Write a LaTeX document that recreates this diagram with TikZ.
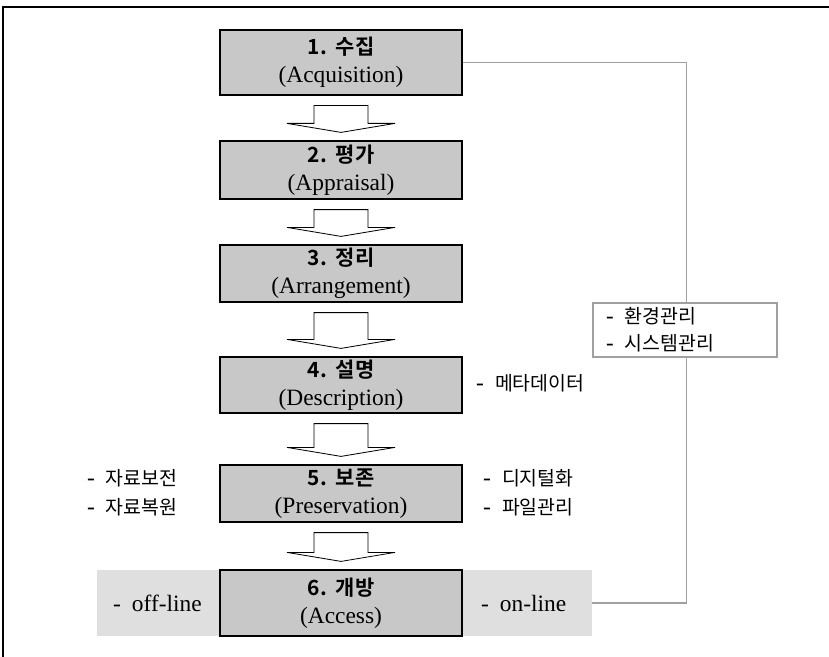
\documentclass[tikz,border=0pt]{standalone}
\usepackage{fontspec}
\setmainfont{Liberation Serif}
\newfontfamily\kr{Noto Sans CJK KR}
\newfontfamily\krb{Noto Sans CJK KR Bold}
\usetikzlibrary{calc}
\definecolor{boxgray}{RGB}{200,200,200}
\definecolor{bandgray}{RGB}{223,223,223}
\definecolor{linegray}{RGB}{160,160,160}
\newcommand\dsh{-\hspace{11bp}}
\newcommand\ko[1]{{\kr\fontsize{19.5}{29}\selectfont #1}}
\newcommand\ttl[1]{{\krb\fontsize{21}{27}\selectfont #1}}
\begin{document}
\begin{tikzpicture}[x=1bp,y=-1bp,
  stage/.style={draw=black, line width=1.2bp, fill=boxgray, minimum width=242bp,
    inner sep=0pt, align=center, font=\fontsize{23.5}{28}\selectfont},
  lab/.style={inner sep=0pt, align=left, font=\fontsize{23.5}{29}\selectfont},
  band/.style={fill=bandgray, inner sep=0pt, minimum width=495bp, minimum height=66bp},
  envbox/.style={draw=linegray, line width=1.3bp, fill=white, align=left,
    text width=158bp, inner xsep=13bp, inner ysep=0pt, minimum height=54bp,
    font=\fontsize{23}{27}\selectfont},
  conn/.style={draw=linegray, line width=1.2bp},
  blockarrow/.style={draw=black, line width=0.8bp, fill=white, line join=miter},
  frame/.style={draw=black, line width=1.3bp}]
\useasboundingbox (0,0) rectangle (829,657);
\draw[frame] (3,657) -- (3,7) -- (829,7);

\node[band] (band) at (344.5,603) {};

\node[stage, minimum height=65bp] (b1) at (341,62.5) {\ttl{1.\hspace{9bp}수집}\\(Acquisition)};
\node[stage, minimum height=58bp] (b2) at (341,170) {\ttl{2.\hspace{9bp}평가}\\(Appraisal)};
\node[stage, minimum height=57bp] (b3) at (341,273.5) {\ttl{3.\hspace{9bp}정리}\\(Arrangement)};
\node[stage, minimum height=56bp] (b4) at (341,385) {\ttl{4.\hspace{9bp}설명}\\(Description)};
\node[stage, minimum height=57bp] (b5) at (341,493.5) {\ttl{5.\hspace{9bp}보존}\\(Preservation)};
\node[stage, minimum height=66bp] (b6) at (341,603) {\ttl{6.\hspace{9bp}개방}\\(Access)};

\foreach \a/\b in {b1/b2,b2/b3,b3/b4,b4/b5,b5/b6}{
  \draw[blockarrow] let \p1=(\a.south), \p2=(\b.north) in
    (\x1-27bp,\y1-10bp) -- (\x1-27bp,\y2+17bp) -- (\x1-54bp,\y2+17bp) --
    (\x1,\y2+8bp) -- (\x1+54bp,\y2+17bp) -- (\x1+27bp,\y2+17bp) --
    (\x1+27bp,\y1-10bp) -- cycle;
}

\draw[conn] (b1.east) -| ($(band.east)+(94,0)$) -- (band.east);

\node[envbox] (env) at (685,330) {\dsh\ko{환경관리}\\\dsh\ko{시스템관리}};

\node[lab, anchor=west] (meta) at (476,383) {\dsh\ko{메타데이터}};
\node[lab, anchor=west] (left5) at (87,492.5) {\dsh\ko{자료보전}\\\dsh\ko{자료복원}};
\node[lab, anchor=west] (right5) at (483,492.5) {\dsh\ko{디지털화}\\\dsh\ko{파일관리}};
\node[lab, anchor=west] (off) at (113,603) {\dsh off-line};
\node[lab, anchor=west] (on) at (481,603) {\dsh on-line};
\end{tikzpicture}
\end{document}
